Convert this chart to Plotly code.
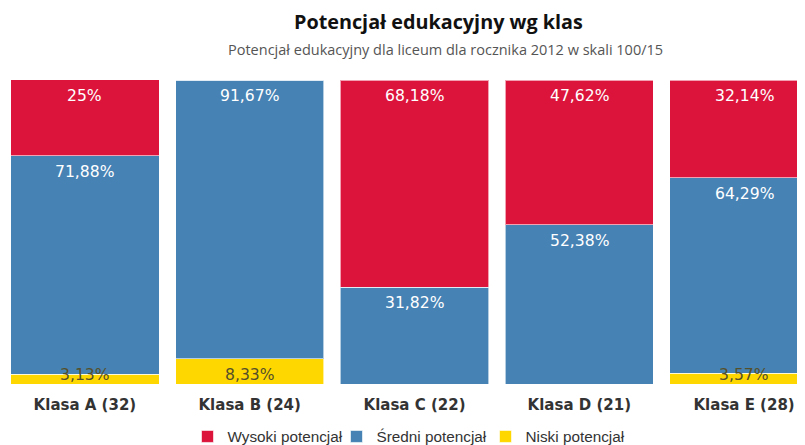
import plotly.graph_objects as go

categories = ["Klasa A (32)", "Klasa B (24)", "Klasa C (22)", "Klasa D (21)", "Klasa E (28)"]
wysoki = [25, 0, 68.18, 47.62, 32.14]
sredni = [71.88, 91.67, 31.82, 52.38, 64.29]
niski = [3.13, 8.33, 0, 0, 3.57]

series_names = ["Niski potencjał", "Średni potencjał", "Wysoki potencjał"]
series_values = [niski, sredni, wysoki]
series_colors = ["#FFD700", "#4682B4", "#DC143C"]
label_colors = ["#55502a", "#ffffff", "#ffffff"]

# the page body has an 8px margin, so figure coords = viewport coords - 8
OFF = 8
W, H = 797, 445
MT = 80 - OFF
PLOT_BOTTOM = 384 - OFF
plot_h = PLOT_BOTTOM - MT
MB = H - PLOT_BOTTOM
ppu = plot_h / 100.0


def fmt(v):
    s = ("%.2f" % v).rstrip("0").rstrip(".")
    return s.replace(".", ",") + "%"


def paper_y(view_y):
    return (PLOT_BOTTOM - (view_y - OFF)) / plot_h


def paper_x(view_x):
    return (view_x - OFF) / W


fig = go.Figure()
for name, vals, col in zip(series_names, series_values, series_colors):
    fig.add_trace(go.Bar(
        x=categories, y=vals, name=name,
        marker=dict(color=col, line=dict(color="rgba(255,255,255,0.6)", width=1)),
        hoverinfo="skip",
    ))

annotations = []
base = [0.0] * len(categories)
for vals, lc in zip(series_values, label_colors):
    for i, v in enumerate(vals):
        top = base[i] + v
        if v > 0:
            center_px = min((100 - top) * ppu + 16, plot_h - 9)
            yv = 100 - center_px / ppu
            annotations.append(dict(
                x=categories[i], y=yv, xref="x", yref="y",
                text=fmt(v), showarrow=False, yanchor="middle",
                font=dict(family="DejaVu Sans", size=15.6, color=lc),
            ))
        base[i] = top

annotations.append(dict(
    x=paper_x(438.5), y=paper_y(21.5), xref="paper", yref="paper",
    text="<b>Potencjał edukacyjny wg klas</b>", showarrow=False,
    xanchor="center", yanchor="middle", borderpad=0,
    font=dict(family="Open Sans", size=19.8, color="#111111"),
))
annotations.append(dict(
    x=paper_x(445), y=paper_y(49), xref="paper", yref="paper",
    text="Potencjał edukacyjny dla liceum dla rocznika 2012 w skali 100/15",
    showarrow=False, xanchor="center", yanchor="middle",
    font=dict(family="Open Sans", size=14.5, color="#555555"),
))

spacing = 164.8
bar_center0 = 84.9 - OFF
r0 = -bar_center0 / spacing
r1 = r0 + W / spacing

fig.update_layout(
    width=W, height=H,
    margin=dict(l=0, r=0, t=MT, b=MB),
    barmode="stack", bargap=0.1,
    plot_bgcolor="white", paper_bgcolor="white",
    showlegend=True,
    legend=dict(orientation="h", x=paper_x(411), xanchor="center", y=paper_y(437),
                yanchor="middle", traceorder="reversed",
                entrywidth=104, entrywidthmode="pixels",
                font=dict(family="Liberation Sans", size=15.3, color="#333333")),
    xaxis=dict(range=[r0, r1], showgrid=False, showline=False, ticks="",
               tickfont=dict(family="DejaVu Sans", size=15, color="#333333", weight="bold"),
               ticklabelstandoff=10),
    yaxis=dict(range=[0, 100], visible=False),
    annotations=annotations,
)

fig.write_html("out.html")
